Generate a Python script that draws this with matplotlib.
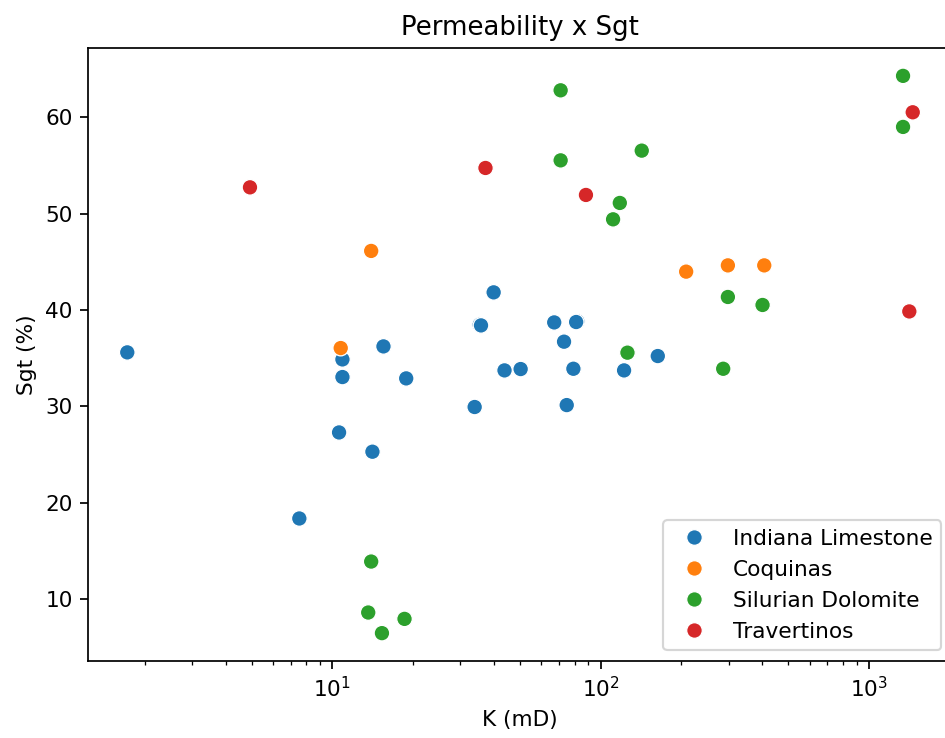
import matplotlib
matplotlib.use("Agg")
import matplotlib.pyplot as plt
import seaborn as sns
import pandas as pd

indiana_k = [1.72, 7.53, 10.59, 10.9, 10.9, 14.1, 15.5, 18.84, 33.9, 35.4, 35.8,
             39.9, 43.8, 50.3, 67.1, 73.0, 74.7, 79.1, 81.8, 81.0, 122.2, 163.2]
indiana_sgt = [35.6, 18.36, 27.29, 34.87, 33.04, 25.29, 36.22, 32.9, 29.93, 38.47, 38.4,
               41.83, 33.73, 33.87, 38.71, 36.71, 30.13, 33.9, 38.82, 38.75, 33.73, 35.22]

coquinas_k = [10.74, 13.95, 208.2, 297.8, 406.9]
coquinas_sgt = [36.05, 46.13, 43.98, 44.63, 44.63]

silurian_k = [13.95, 13.6, 18.57, 15.3, 70.9, 70.9, 142.2, 117.8, 111.2, 125.8,
              286.1, 297.8, 401.0, 1339.0, 1339.0]
silurian_sgt = [13.89, 8.6, 7.94, 6.46, 62.8, 55.53, 56.54, 51.11, 49.41, 35.57,
                33.9, 41.35, 40.52, 64.3, 59.0]

travertinos_k = [4.93, 37.2, 88.1, 1455.0, 1413.0]
travertinos_sgt = [52.73, 54.74, 51.94, 60.52, 39.85]

groups = ["Indiana Limestone", "Coquinas", "Silurian Dolomite", "Travertinos"]
ks = [indiana_k, coquinas_k, silurian_k, travertinos_k]
sgts = [indiana_sgt, coquinas_sgt, silurian_sgt, travertinos_sgt]

rows = []
for g, kk, ss in zip(groups, ks, sgts):
    for k, s in zip(kk, ss):
        rows.append({"K": k, "Sgt": s, "Rock": g})
df = pd.DataFrame(rows)

dpi = 156
fig = plt.figure(figsize=(945 / dpi, 738 / dpi), dpi=dpi)
ax = fig.add_axes([88 / 945, 77 / 738, 864 / 945, 613 / 738])
ax.set_xscale("log")
sns.scatterplot(data=df, x="K", y="Sgt", hue="Rock", hue_order=groups, ax=ax,
                s=52, linewidth=0.6, edgecolor="white")
ax.set_title("Permeability x Sgt")
ax.set_xlabel("K (mD)")
ax.set_ylabel("Sgt (%)")
ax.legend(loc="lower right")

fig.savefig("out.png", dpi=dpi)
